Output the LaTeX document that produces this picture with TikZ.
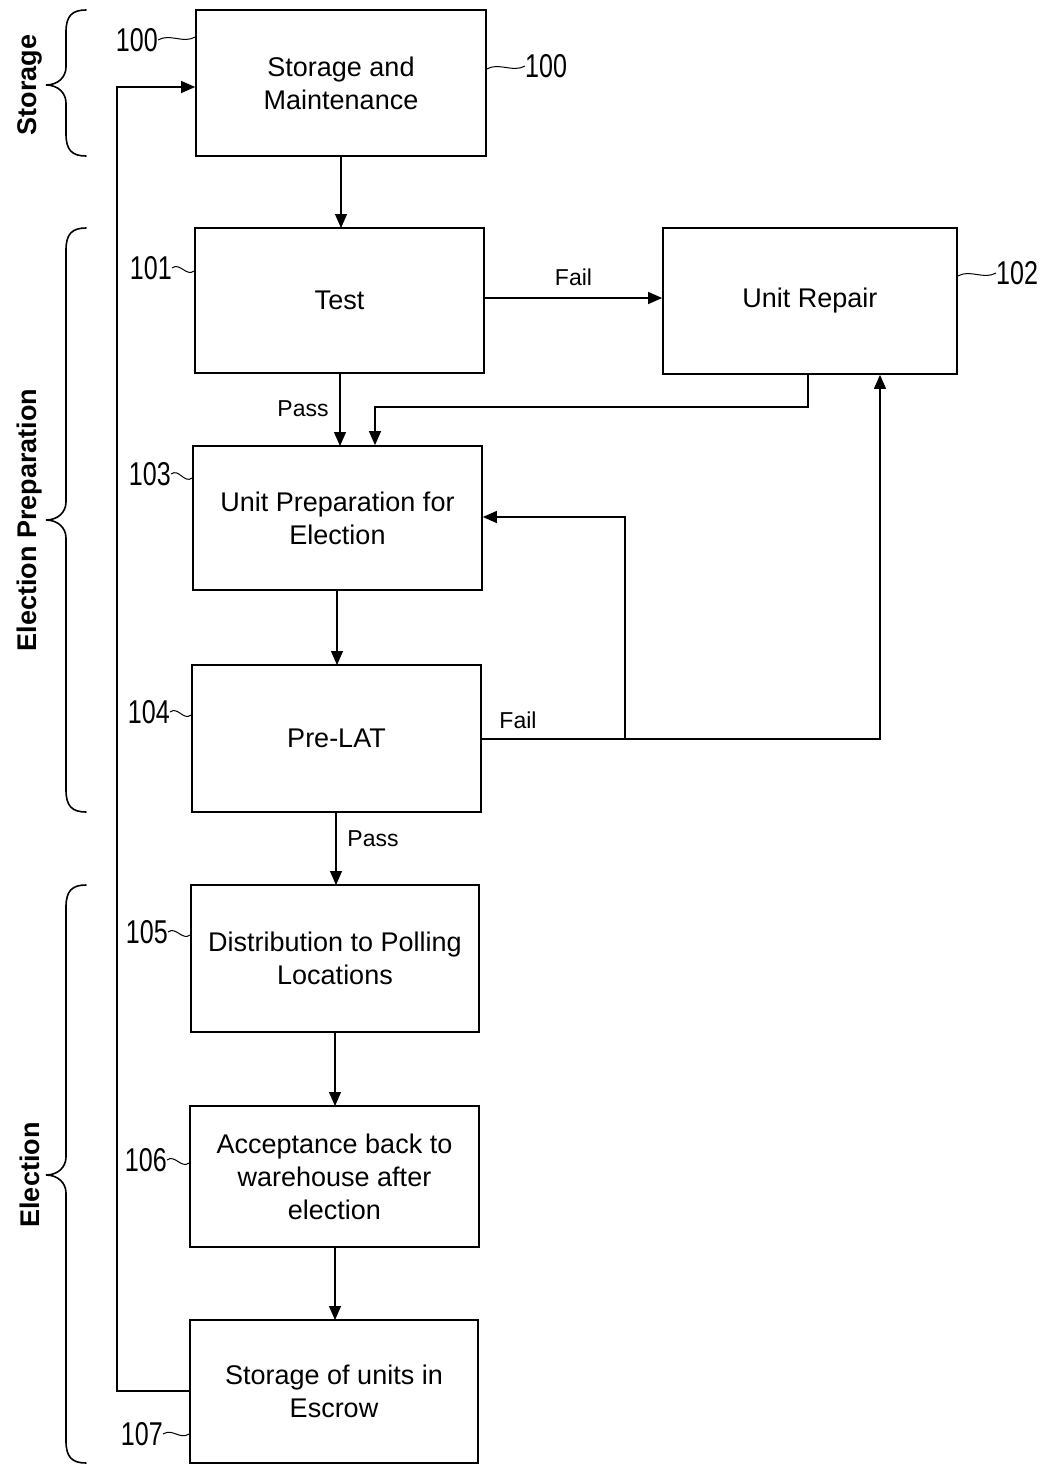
\documentclass[tikz,border=0pt]{standalone}
\usepackage{fontspec}
\setmainfont{Liberation Sans}
\usetikzlibrary{arrows.meta}
\newcommand{\sbrace}[3]{%
  \draw[bracestyle] (86,#1) .. controls (72,#1) and (66,{#1+6}) .. (66,{#1+22}) -- (66,{#2-18})
    .. controls (66,{#2-8}) and (58,#2) .. (46,#2)
    .. controls (58,#2) and (66,{#2+8}) .. (66,{#2+18}) -- (66,{#3-22})
    .. controls (66,{#3-6}) and (72,#3) .. (86,#3);}
\begin{document}
\begin{tikzpicture}[x=1pt,y=-1pt,
  box/.style={draw, line width=1.7pt, align=center, inner sep=0pt,
    font=\fontsize{27}{33}\selectfont},
  conn/.style={line width=1.2pt, -{Triangle[length=14pt,width=12pt]}},
  plain/.style={line width=1.2pt},
  lbl/.style={font=\fontsize{23}{26}\selectfont, inner sep=0pt},
  refnum/.style={font=\fontsize{33}{36}\selectfont, inner sep=0pt},
  tildeline/.style={line width=1pt},
  bracestyle/.style={line width=1.6pt, line cap=round},
  sect/.style={rotate=90, font=\bfseries\fontsize{27}{30}\selectfont, inner sep=0pt}]
\useasboundingbox[fill=white] (0,0) rectangle (1050,1465);

% boxes
\node[box, minimum width=290, minimum height=146] (n100) at (341,83) {Storage and\\Maintenance};
\node[box, minimum width=289, minimum height=145] (n101) at (339.5,300.5) {Test};
\node[box, minimum width=294, minimum height=146] (n102) at (810,301) {Unit Repair};
\node[box, minimum width=289, minimum height=144] (n103) at (337.5,518) {Unit Preparation for\\Election};
\node[box, minimum width=289, minimum height=147] (n104) at (336.5,738.5) {Pre-LAT};
\node[box, minimum width=288, minimum height=147] (n105) at (335,958.5) {Distribution to Polling\\Locations};
\node[box, minimum width=289, minimum height=141] (n106) at (334.5,1176.5) {Acceptance back to\\warehouse after\\election};
\node[box, minimum width=288, minimum height=143] (n107) at (334,1391.5) {Storage of units in\\Escrow};

% coordinates for routing
\coordinate (r1) at (808,407);
\coordinate (r2) at (375,407);
\coordinate (f1) at (880,739);
\coordinate (f2) at (625,739);
\coordinate (f3) at (625,517);
\coordinate (b1) at (117,1391);
\coordinate (b2) at (117,87);

% main flow
\draw[conn] (n100.south -| 341,0) -- (341,228);
\draw[conn] (n101.east |- 0,298) -- (n102.west |- 0,298) node[lbl, midway, above=12pt] {Fail};
\draw[conn] (340,373) -- (340,446);
\node[lbl] (pass1) at (303,409) {Pass};
\draw[conn] (n103.south -| 337,0) -- (337,665);
\draw[conn] (n104.south -| 336,0) -- (336,885);
\node[lbl] (pass2) at (373,839) {Pass};
\draw[conn] (n105.south -| 335,0) -- (335,1106);
\draw[conn] (n106.south -| 335,0) -- (335,1320);

% repair return
\draw[conn] (n102.south -| r1) -- (r1) -- (r2) -- (n103.north -| r2);
% pre-LAT fail
\draw[conn] (n104.east |- f1) -- (f1) -- (n102.south -| f1);
\node[lbl] (fail2) at (518,720) {Fail};
\draw[conn] (f2) -- (f3) -- (n103.east |- f3);
% feedback loop
\draw[conn] (n107.west |- b1) -- (b1) -- (b2) -- (n100.west |- b2);

% reference numerals
\node[refnum, anchor=east] (l100a) at (158,40) {\scalebox{0.76}[1]{100}};
\draw[tildeline] (l100a.east) .. controls +(12,-7) and +(-12,7) .. (n100.west |- 0,37);
\node[refnum, anchor=west] (l100b) at (525,66) {\scalebox{0.76}[1]{100}};
\draw[tildeline] (n100.east |- 0,69) .. controls +(12,-7) and +(-12,7) .. (l100b.west);
\node[refnum, anchor=east] (l101) at (172,268) {\scalebox{0.76}[1]{101}};
\draw[tildeline] (l101.east) .. controls +(8,-6) and +(-8,6) .. (n101.west |- 0,271);
\node[refnum, anchor=west] (l102) at (996,273) {\scalebox{0.76}[1]{102}};
\draw[tildeline] (n102.east |- 0,276) .. controls +(12,-7) and +(-12,7) .. (l102.west);
\node[refnum, anchor=east] (l103) at (171,474) {\scalebox{0.76}[1]{103}};
\draw[tildeline] (l103.east) .. controls +(8,-6) and +(-8,6) .. (n103.west |- 0,478);
\node[refnum, anchor=east] (l104) at (170,712) {\scalebox{0.76}[1]{104}};
\draw[tildeline] (l104.east) .. controls +(8,-6) and +(-8,6) .. (n104.west |- 0,715);
\node[refnum, anchor=east] (l105) at (168,932) {\scalebox{0.76}[1]{105}};
\draw[tildeline] (l105.east) .. controls +(8,-6) and +(-8,6) .. (n105.west |- 0,935);
\node[refnum, anchor=east] (l106) at (167,1160) {\scalebox{0.76}[1]{106}};
\draw[tildeline] (l106.east) .. controls +(8,-6) and +(-8,6) .. (n106.west |- 0,1163);
\node[refnum, anchor=east] (l107) at (163,1434) {\scalebox{0.76}[1]{107}};
\draw[tildeline] (l107.east) .. controls +(10,-6) and +(-10,6) .. (n107.west |- 0,1434);

% braces and section labels
\sbrace{10}{85}{156}
\sbrace{228}{520}{812}
\sbrace{885}{1175}{1463}
\node[sect] (s1) at (30,85) {Storage};
\node[sect] (s2) at (30,520) {Election Preparation};
\node[sect] (s3) at (30,1175) {Election};
\end{tikzpicture}
\end{document}
